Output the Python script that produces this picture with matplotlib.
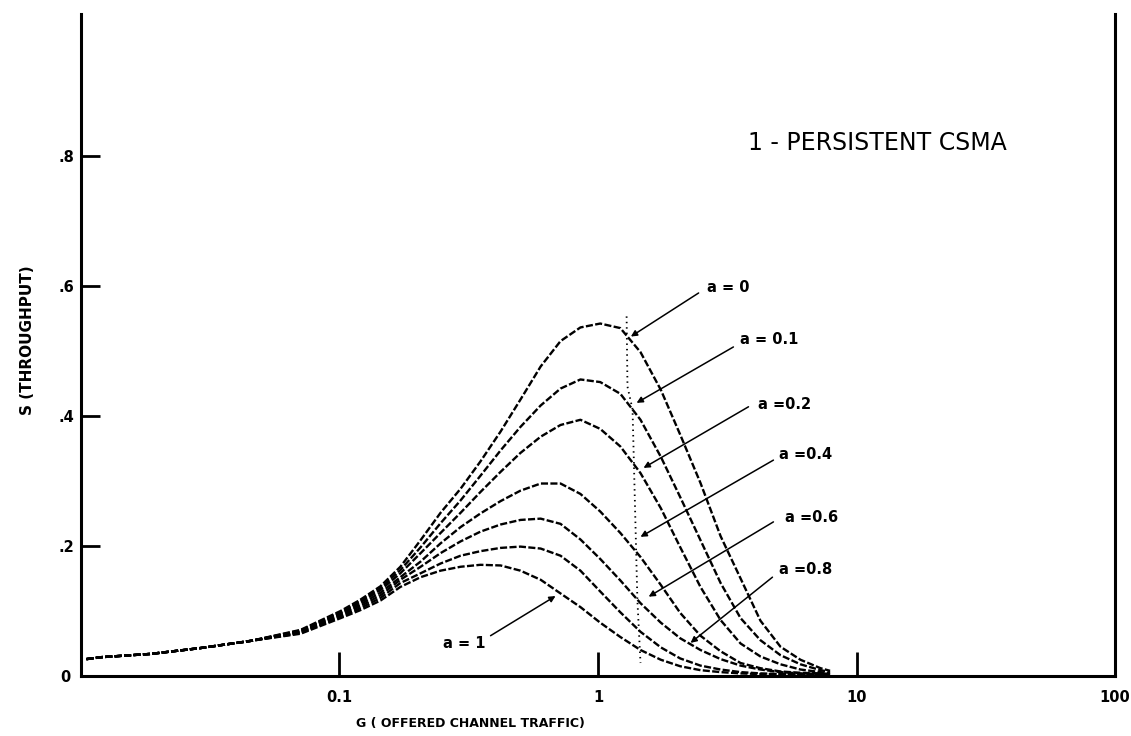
import matplotlib
matplotlib.use("Agg")
import matplotlib.pyplot as plt

# ---- data ----
G = [0.0105, 0.012, 0.0186, 0.029, 0.0453, 0.0707, 0.101, 0.120, 0.144,
     0.172, 0.206, 0.246, 0.294, 0.351, 0.420, 0.501, 0.600, 0.716, 0.855,
     1.02, 1.22, 1.46, 1.75, 2.08, 2.49, 2.98, 3.56, 4.25, 5.08, 6.07, 7.26, 7.9]

S_low = [0.026, 0.029, 0.034, 0.043, 0.054]

S_a0 = S_low + [.071, .100, .117, .138,
                .168, .209, .251, .288, .330, .376, .425, .476, .515, .536, .542,
                .535, .498, .44, .371, .297, .215, .15, .085, .045, .025, .012, .008]
S_a01 = S_low + [.070, .098, .115, .135,
                 .163, .198, .235, .270, .308, .347, .383, .416, .442, .456, .452,
                 .434, .394, .337, .275, .209, .143, .089, .055, .032, .018, .009, .006]
S_a02 = S_low + [.069, .097, .113, .132,
                 .158, .189, .22, .251, .283, .314, .343, .368, .386, .394, .38,
                 .353, .312, .258, .198, .137, .086, .05, .03, .018, .01, .006, .004]
S_a04 = S_low + [.068, .095, .110, .128,
                 .152, .176, .204, .229, .250, .269, .285, .296, .296, .280, .253,
                 .22, .183, .14, .097, .062, .038, .02, .012, .007, .005, .004, .003]
S_a06 = S_low + [.067, .093, .107, .124,
                 .148, .168, .189, .207, .222, .233, .240, .242, .234, .210, .180,
                 .147, .112, .082, .058, .04, .026, .016, .01, .006, .004, .003, .003]
S_a08 = S_low + [.066, .091, .104, .120,
                 .143, .158, .173, .185, .192, .197, .199, .196, .185, .162, .13,
                 .098, .068, .044, .027, .016, .01, .006, .004, .003, .003, .003, .003]
S_a1 = S_low + [.065, .089, .101, .116,
                .137, .152, .162, .168, .171, .170, .162, .148, .127, .106, .082,
                .06, .04, .025, .015, .009, .006, .004, .003, .003, .003, .003, .003]

curves = [S_a0, S_a01, S_a02, S_a04, S_a06, S_a08, S_a1]

labels = ["a = 0", "a = 0.1", "a =0.2", "a =0.4", "a =0.6", "a =0.8", "a = 1"]
# arrow tail (label side) and head (curve side), in data units (G, S)
arrow_tail = [(2.45, 0.589), (3.34, 0.506), (3.82, 0.414), (4.77, 0.332),
              (4.77, 0.237), (4.73, 0.152), (0.384, 0.062)]
arrow_head = [(1.34, 0.522), (1.41, 0.42), (1.50, 0.32), (1.46, 0.214),
              (1.57, 0.122), (2.28, 0.051), (0.685, 0.123)]
label_pos = [(2.65, 0.598), (3.55, 0.518), (4.15, 0.418), (5.0, 0.34),
             (5.3, 0.244), (5.0, 0.164), (0.252, 0.05)]

dot_G = [1.29, 1.30, 1.36, 1.42, 1.46]
dot_S = [0.553, 0.445, 0.41, 0.117, 0.02]

x_ticks = [0.1, 1, 10, 100]
x_ticklabels = ["0.1", "1", "10", "100"]
y_ticks = [0.2, 0.4, 0.6, 0.8]
y_ticklabels = [".2", ".4", ".6", ".8"]

# ---- figure ----
fig = plt.figure(figsize=(11.31, 7.36), dpi=100)
ax = fig.add_axes([0.0716, 0.0815, 0.9859 - 0.0716, 0.981 - 0.0815])
ax.set_xscale("log")
ax.set_xlim(0.01, 100)
ax.set_ylim(0, 1.018)

for s in curves:
    ax.plot(G, s, color="black", lw=1.7, linestyle=(0, (3, 1)))

ax.plot(dot_G, dot_S, color="black", lw=1.3, linestyle=(0, (0.8, 2.2)))

for lab, tail, head, lp in zip(labels, arrow_tail, arrow_head, label_pos):
    ax.annotate("", xy=head, xytext=tail,
                arrowprops=dict(arrowstyle="-|>", color="black", lw=1.1,
                                mutation_scale=9, shrinkA=0, shrinkB=0))
    ax.text(lp[0], lp[1], lab, fontsize=10.5, fontweight="bold",
            ha="left", va="center")

ax.text(3.82, 0.82, "1 - PERSISTENT CSMA", fontsize=17, ha="left", va="center")

for side in ["top"]:
    ax.spines[side].set_visible(False)
for side in ["left", "bottom", "right"]:
    ax.spines[side].set_linewidth(2.2)

ax.set_xticks(x_ticks)
ax.set_xticklabels(x_ticklabels, fontsize=10.5, fontweight="bold")
ax.xaxis.set_minor_locator(matplotlib.ticker.NullLocator())
ax.tick_params(axis="x", direction="in", length=17, width=2, pad=10)
ax.set_yticks(y_ticks)
ax.set_yticklabels(y_ticklabels, fontsize=10.5, fontweight="bold")
ax.tick_params(axis="y", direction="in", length=14, width=2, pad=5)

fig.text(65 / 1131, 1 - 677 / 736, "0", fontsize=10.5, fontweight="bold",
         ha="center", va="center")
fig.text(470 / 1131, 1 - 724 / 736, "G ( OFFERED CHANNEL TRAFFIC)",
         fontsize=9, fontweight="bold", ha="center", va="center")
fig.text(28 / 1131, 1 - 340 / 736, "S (THROUGHPUT)", fontsize=11,
         fontweight="bold", ha="center", va="center", rotation=90)

fig.savefig("out.png", dpi=100)
